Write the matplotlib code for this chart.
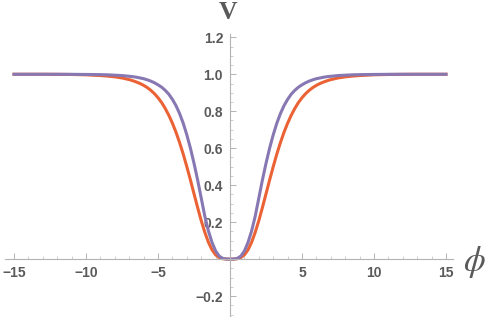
import matplotlib
matplotlib.use("Agg")
import matplotlib.pyplot as plt
import numpy as np

plt.rcParams["mathtext.fontset"] = "stix"

# potential curves (right half, curves are symmetric)
phi_half = [0, 0.25, 0.5, 0.75, 1.0, 1.25, 1.5, 1.75, 2.0, 2.25, 2.5, 2.75,
            3.0, 3.25, 3.5, 3.75, 4.0, 4.25, 4.5, 4.75, 5.0, 5.25, 5.5, 5.75,
            6.0, 6.25, 6.5, 6.75, 7.0, 7.5, 8.0, 8.5, 9.0, 10.0, 11.0, 12.0,
            13.0, 14.0, 15.0]
v_orange = [0, 0.0001, 0.0017, 0.008, 0.023, 0.05, 0.091, 0.145, 0.208,
            0.279, 0.353, 0.428, 0.5, 0.568, 0.63, 0.686, 0.735, 0.778, 0.815,
            0.847, 0.873, 0.895, 0.913, 0.928, 0.94, 0.95, 0.958, 0.965, 0.971,
            0.98, 0.986, 0.99, 0.993, 0.997, 0.9988, 0.9995, 1.0, 1.0, 1.0]
v_purple = [0, 0.0002, 0.0035, 0.016, 0.044, 0.09, 0.152, 0.232, 0.33, 0.428,
            0.518, 0.6, 0.672, 0.735, 0.787, 0.83, 0.864, 0.892, 0.913, 0.93,
            0.943, 0.954, 0.963, 0.97, 0.976, 0.98, 0.984, 0.987, 0.989, 0.993,
            0.995, 0.997, 0.998, 0.999, 0.9996, 1.0, 1.0, 1.0, 1.0]

x_ticks = [-15, -10, -5, 5, 10, 15]
y_ticks = [-0.2, 0.2, 0.4, 0.6, 0.8, 1.0, 1.2]


def mirror(xs, ys):
    xs = np.array(xs)
    ys = np.array(ys)
    return np.concatenate([-xs[::-1], xs[1:]]), np.concatenate([ys[::-1], ys[1:]])


fig = plt.figure(figsize=(4.91, 3.17), dpi=100)
ax = fig.add_axes([0.011, 0.002, 0.912, 0.892])

x, y = mirror(phi_half, v_orange)
ax.plot(x, y, color="#EB6235", lw=2.2, solid_joinstyle="round")
x, y = mirror(phi_half, v_purple)
ax.plot(x, y, color="#8778B3", lw=2.2, solid_joinstyle="round")

ax.set_xlim(-15.6, 15.5)
ax.set_ylim(-0.31, 1.22)

for s in ["top", "right"]:
    ax.spines[s].set_visible(False)
for s in ["left", "bottom"]:
    ax.spines[s].set_position(("data", 0))
    ax.spines[s].set_color("#b3b3b3")
    ax.spines[s].set_linewidth(0.8)

ax.set_xticks(x_ticks)
ax.set_xticks(np.arange(-15, 16, 1), minor=True)
ax.set_yticks(y_ticks)
ax.set_yticks(np.arange(-0.3, 1.21, 0.05), minor=True)
ax.set_xticklabels([str(t).replace("-", "\u2212") for t in x_ticks])
ax.set_yticklabels([f"{t:.1f}".replace("-", "\u2212") for t in y_ticks])

ax.tick_params(which="major", direction="in", length=4, width=0.7,
               color="#b3b3b3", labelsize=10, labelcolor="#5a5a5a", pad=5)
ax.tick_params(which="minor", direction="in", length=2.2, width=0.6,
               color="#c8c8c8")
for lab in ax.get_xticklabels() + ax.get_yticklabels():
    lab.set_fontweight("bold")
    lab.set_family("Liberation Sans")

fig.text(0.465, 0.997, "V", ha="center", va="top", fontsize=18.5,
         family="Liberation Serif", fontweight="bold", color="#5a5a5a")
fig.text(0.967, 0.175, r"$\phi$", ha="center", va="center", fontsize=25,
         color="#5a5a5a")

fig.savefig("out.png", dpi=100)
